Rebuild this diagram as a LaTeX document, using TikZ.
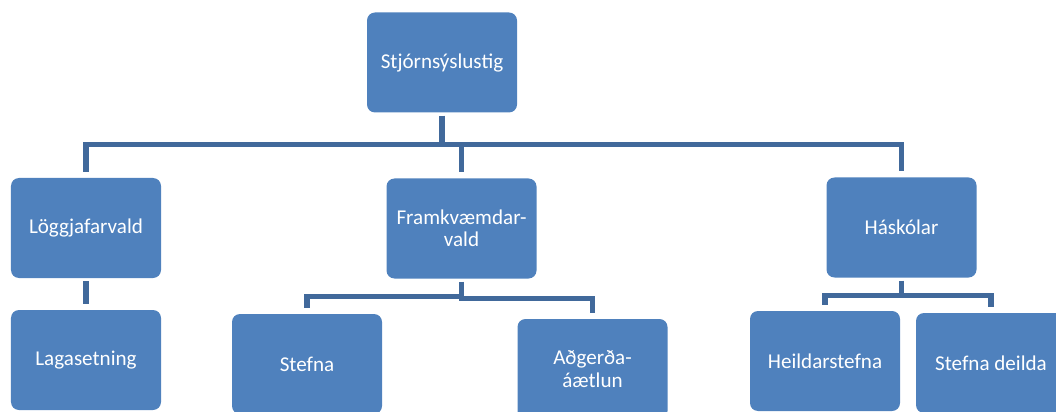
\documentclass[tikz,border=0pt]{standalone}
\usepackage{fontspec}
\setmainfont{Carlito}
\definecolor{boxblue}{HTML}{4F81BD}
\definecolor{linkblue}{HTML}{41699B}
\tikzset{
  box/.style={fill=boxblue, rounded corners=2mm, text=white, align=center,
    minimum width=37.5mm, minimum height=25mm, inner sep=1mm,
    font=\fontsize{15pt}{16pt}\selectfont},
  conn/.style={draw=linkblue, line width=1.3mm, shorten <=0.75mm, shorten >=1.5mm}
}
\begin{document}
\begin{tikzpicture}[x=0.25mm, y=-0.25mm]
        \useasboundingbox (0,0) rectangle (1056,412);
        \clip (0,0) rectangle (1056,412);

        % Top level
        \node[box] (top) at (442,62.5) {Stjórnsýslustig};

        % Second level
        \node[box] (lg) at (86,228) {Löggjafarvald};
        \node[box] (fv) at (461.5,228.5) {Framkvæmdar-\\vald};
        \node[box] (hs) at (901.5,227.5) {Háskólar};

        % Third level
        \node[box] (lgs) at (86,360) {Lagasetning};
        \node[box] (st) at (307,364) {Stefna};
        \node[box] (ad) at (592.5,369) {Aðgerða-\\áætlun};
        \node[box] (hst) at (825,361) {Heildarstefna};
        \node[box] (sd) at (991,363) {Stefna deilda};

        % Connectors
        \draw[conn] (top.south) -- ++(0,32) -| (lg.north);
        \draw[conn] (top.south) -- ++(0,32) -| (fv.north);
        \draw[conn] (top.south) -- ++(0,32) -| (hs.north);
        \draw[conn] (lg.south) -- (lgs.north);
        \draw[conn] (fv.south) -- ++(0,18) -| (st.north);
        \draw[conn] (fv.south) -- ++(0,20) -| (ad.north);
        \draw[conn] (hs.south) -- ++(0,18) -| (hst.north);
        \draw[conn] (hs.south) -- ++(0,18) -| (sd.north);
\end{tikzpicture}
\end{document}
